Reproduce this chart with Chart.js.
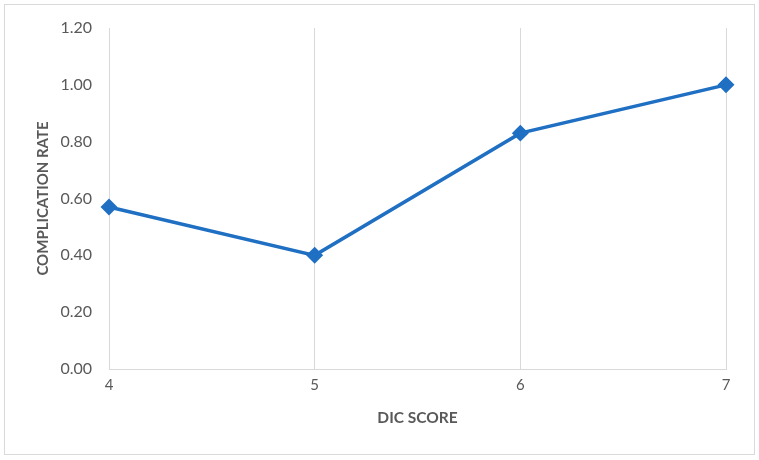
<!DOCTYPE html>
<html>
<head>
<meta charset="utf-8">
<script src="https://cdn.jsdelivr.net/npm/chart.js@4"></script>
<style>
  body { margin: 0; background: #fff; }
  #wrap { position: relative; width: 759px; height: 460px; }
  #frame {
    position: absolute; left: 4px; top: 4px; width: 749px; height: 449px;
    border: 1px solid #d9d9d9; pointer-events: none;
  }
</style>
</head>
<body>
<div id="wrap">
  <canvas id="chart" width="759" height="460"></canvas>
  <div id="frame"></div>
</div>
<script>
// data
const dicScores = ["4", "5", "6", "7"];
const complicationRate = [0.57, 0.40, 0.83, 1.00];

const yMin = 0;
const yMax = 1.2;
const yStep = 0.2;

const grey = "#595959";
const gridGrey = "#d9d9d9";
const lineBlue = "#1f6fc3";

const ctx = document.getElementById("chart").getContext("2d");

new Chart(ctx, {
  type: "line",
  data: {
    labels: dicScores,
    datasets: [
      {
        label: "Complication rate",
        data: complicationRate,
        borderColor: lineBlue,
        backgroundColor: lineBlue,
        borderWidth: 3.5,
        pointStyle: "rectRot",
        pointRadius: 6,
        pointHoverRadius: 6,
        tension: 0,
      },
    ],
  },
  options: {
    responsive: false,
    animation: false,
    layout: {
      padding: { left: 0, top: 28, right: 33, bottom: 0 },
    },
    plugins: {
      legend: { display: false },
      tooltip: { enabled: false },
    },
    scales: {
      x: {
        grid: { color: gridGrey, lineWidth: 1, drawTicks: false },
        border: { display: true, color: gridGrey, width: 1 },
        ticks: {
          color: grey,
          padding: 7,
          font: { family: "Lato", size: 15 },
        },
        title: {
          display: true,
          text: "DIC SCORE",
          color: grey,
          font: { family: "Lato", size: 15.5, weight: "bold" },
          padding: { top: 0, bottom: 33 },
        },
        afterFit: (scale) => { scale.height = 91; },
      },
      y: {
        min: yMin,
        max: yMax,
        grid: { display: false, drawTicks: false },
        border: { display: false },
        ticks: {
          stepSize: yStep,
          color: grey,
          padding: 17,
          font: { family: "Lato", size: 16 },
          callback: (v) => v.toFixed(2),
        },
        title: {
          display: true,
          text: "COMPLICATION RATE",
          color: grey,
          font: { family: "Lato", size: 15, weight: "bold" },
          padding: { top: 34, bottom: 0 },
        },
        afterFit: (scale) => { scale.width = 109; },
      },
    },
  },
});
</script>
</body>
</html>
